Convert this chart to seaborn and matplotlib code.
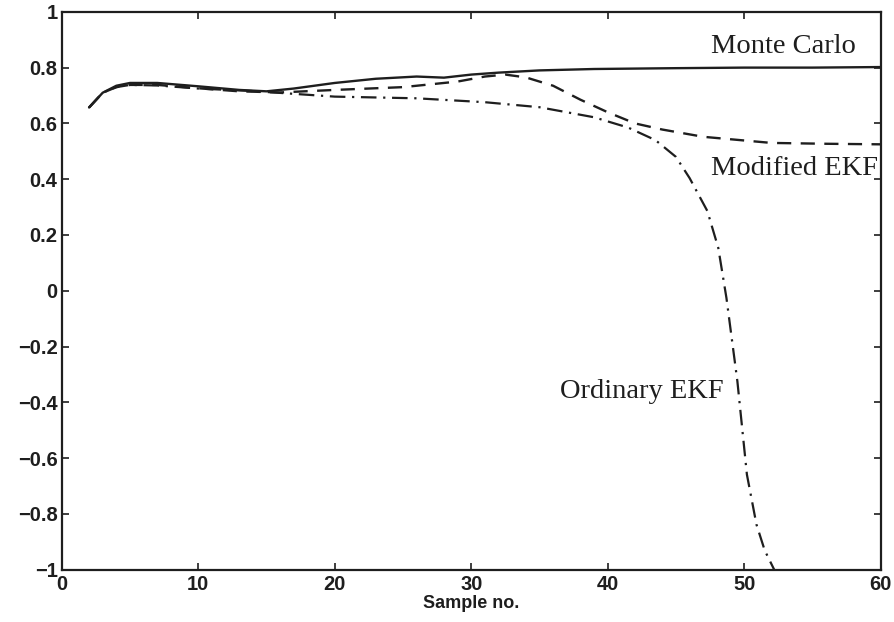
import numpy as np
import pandas as pd
import matplotlib
matplotlib.use('Agg')
import matplotlib.pyplot as plt
import seaborn as sns

# values
mc_x = [2, 3, 4, 5, 7, 10, 13, 15, 17, 20, 23, 26, 28, 30, 32, 35, 39, 45, 50, 55, 60]
mc_y = [0.657, 0.71, 0.735, 0.745, 0.745, 0.733, 0.72, 0.715, 0.725, 0.745, 0.76,
        0.768, 0.764, 0.775, 0.782, 0.79, 0.795, 0.798, 0.80, 0.80, 0.802]

mod_x = [2, 3, 4, 5, 7, 10, 13, 16, 20, 25, 29, 31, 32.5, 34, 36, 38, 40, 42, 44,
         47, 52, 56, 60]
mod_y = [0.657, 0.71, 0.73, 0.738, 0.738, 0.726, 0.715, 0.711, 0.72, 0.73, 0.75,
         0.768, 0.775, 0.765, 0.735, 0.685, 0.64, 0.6, 0.578, 0.552, 0.53, 0.527, 0.525]

ord_x = [2, 3, 4, 5, 7, 10, 14, 20, 26, 31, 35, 39, 41.5, 43.5, 45, 46, 47.3, 48.1,
         48.7, 49.5, 50.2, 50.9, 51.5, 52.2]
ord_y = [0.657, 0.71, 0.73, 0.738, 0.736, 0.725, 0.716, 0.696, 0.69, 0.676, 0.658,
         0.622, 0.585, 0.54, 0.48, 0.404, 0.286, 0.154, -0.026, -0.324, -0.659,
         -0.838, -0.93, -1.0]

x_ticks = [0, 10, 20, 30, 40, 50, 60]
y_ticks = [-1, -0.8, -0.6, -0.4, -0.2, 0, 0.2, 0.4, 0.6, 0.8, 1]
y_tick_labels = ['\u22121', '\u22120.8', '\u22120.6', '\u22120.4', '\u22120.2', '0',
                 '0.2', '0.4', '0.6', '0.8', '1']

sns.set_style('ticks')
plt.rcParams['font.family'] = ['Liberation Sans', 'DejaVu Sans']

fig = plt.figure(figsize=(8.95, 6.22), dpi=100)
ax = fig.add_axes([0.069, 0.084, 0.915, 0.897])

ink = '#1e1e1e'
sns.lineplot(x=mc_x, y=mc_y, ax=ax, color=ink, linewidth=1.7, linestyle='-')
sns.lineplot(x=mod_x, y=mod_y, ax=ax, color=ink, linewidth=1.7,
             linestyle=(0, (6, 4)))
sns.lineplot(x=ord_x, y=ord_y, ax=ax, color=ink, linewidth=1.6,
             linestyle=(0, (7, 3, 1, 3)))

ax.set_xlim(0, 60)
ax.set_ylim(-1, 1)
ax.set_xticks(x_ticks)
ax.set_yticks(y_ticks)
ax.set_yticklabels(y_tick_labels)
ax.tick_params(direction='in', top=True, right=True, length=5, width=1.2,
               labelsize=14.5, colors=ink)
ax.tick_params(axis='y', pad=3)
for lab in ax.get_xticklabels() + ax.get_yticklabels():
    lab.set_fontweight('bold')
for sp in ax.spines.values():
    sp.set_visible(True)
    sp.set_linewidth(1.6)
    sp.set_color(ink)

ax.set_xlabel('Sample no.', fontsize=13, fontweight='bold', color=ink, labelpad=1)
ax.set_ylabel('')

serif = {'family': 'Liberation Serif', 'size': 20.5, 'color': ink}
ax.text(47.6, 0.875, 'Monte Carlo', ha='left', va='center', fontdict=serif)
ax.text(47.6, 0.44, 'Modified EKF', ha='left', va='center', fontdict=serif)
ax.text(36.5, -0.36, 'Ordinary EKF', ha='left', va='center', fontdict=serif)

fig.savefig('out.png', dpi=100)
